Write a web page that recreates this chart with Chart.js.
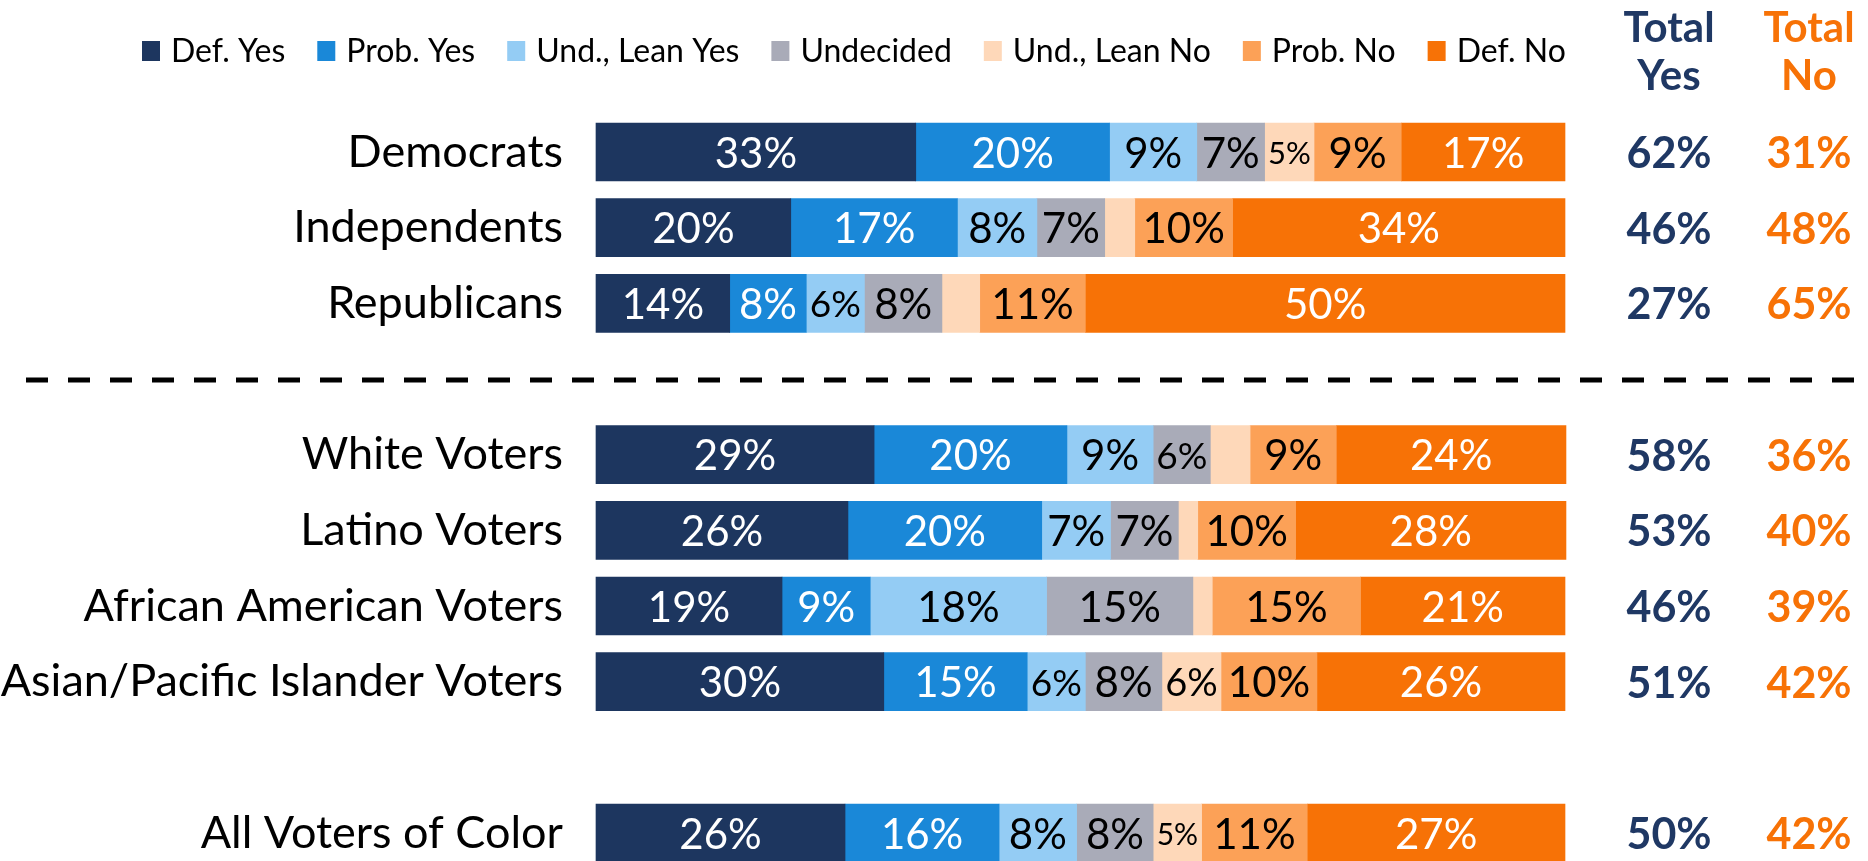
<!DOCTYPE html>
<html>
<head>
<meta charset="utf-8">
<script src="https://cdn.jsdelivr.net/npm/chart.js@4.4.1/dist/chart.umd.min.js"></script>
<style>
  html, body { margin: 0; padding: 0; background: #ffffff; }
  #wrap { position: relative; width: 1868px; height: 861px; }
</style>
</head>
<body>
<div id="wrap"><canvas id="c"></canvas></div>
<script>
// ---- data ----
const categories = ["Democrats", "Independents", "Republicans", "", "White Voters", "Latino Voters",
  "African American Voters", "Asian/Pacific Islander Voters", "", "All Voters of Color"];
const seriesNames = ["Def. Yes", "Prob. Yes", "Und., Lean Yes", "Undecided", "Und., Lean No", "Prob. No", "Def. No"];
const defYes    = [33.0, 20.1, 13.8, null, 28.7, 26.0, 19.2, 29.7, null, 25.7];
const probYes   = [20.0, 17.2,  7.9, null, 19.9, 20.0,  9.1, 14.8, null, 15.9];
const leanYes   = [ 9.0,  8.2,  6.0, null,  8.9,  7.1, 18.2,  6.0, null,  8.0];
const undecided = [ 7.0,  7.0,  8.0, null,  5.9,  7.0, 15.1,  7.9, null,  7.9];
const leanNo    = [ 5.1,  3.1,  3.9, null,  4.1,  2.0,  2.0,  6.1, null,  5.0];
const probNo    = [ 9.0, 10.1, 10.9, null,  8.9, 10.1, 15.3,  9.9, null, 10.9];
const defNo     = [16.9, 34.3, 49.5, null, 23.7, 27.9, 21.1, 25.6, null, 26.6];
const totalYes  = [62, 46, 27, null, 58, 53, 46, 51, null, 50];
const totalNo   = [31, 48, 65, null, 36, 40, 39, 42, null, 42];
const totalHeaders = [["Total", "Yes"], ["Total", "No"]];

// ---- styles ----
const seriesColors = ["#1D365F", "#1A88D8", "#94CCF4", "#A9ABB8", "#FED8B9", "#FCA157", "#F77206"];
const labelColors  = ["#FFFFFF", "#FFFFFF", "#000000", "#000000", "#000000", "#000000", "#FFFFFF"];
const yesColor = "#1F3864";
const noColor = "#F77206";
const FONT = "Lato, 'Open Sans', sans-serif";

const seriesValues = [defYes, probYes, leanYes, undecided, leanNo, probNo, defNo];

const datasets = seriesValues.map((vals, i) => ({
  label: seriesNames[i],
  data: vals,
  backgroundColor: seriesColors[i],
  borderWidth: 0,
  barThickness: 58,
  clip: false,
  stack: "s"
}));

const overlay = {
  id: "overlay",
  afterDatasetsDraw(chart) {
    const ctx = chart.ctx;
    const yScale = chart.scales.y;
    ctx.save();
    // segment labels
    chart.data.datasets.forEach((ds, di) => {
      const meta = chart.getDatasetMeta(di);
      meta.data.forEach((bar, i) => {
        const v = ds.data[i];
        if (v == null || v < 4.5) return;
        const txt = Math.round(v) + "%";
        const w = Math.abs(bar.x - bar.base);
        let size = 42;
        ctx.font = size + "px " + FONT;
        let tw = ctx.measureText(txt).width;
        if (tw > w - 6) {
          size = Math.max(20, Math.floor(size * (w - 6) / tw));
          ctx.font = size + "px " + FONT;
        }
        ctx.fillStyle = labelColors[di];
        ctx.textAlign = "center";
        ctx.textBaseline = "middle";
        ctx.fillText(txt, (bar.x + bar.base) / 2, bar.y + 2);
      });
    });
    // totals columns
    const colX = [1669, 1809];
    const colColors = [yesColor, noColor];
    const colVals = [totalYes, totalNo];
    ctx.textAlign = "center";
    ctx.textBaseline = "middle";
    for (let c = 0; c < 2; c++) {
      ctx.fillStyle = colColors[c];
      ctx.font = "bold 42px " + FONT;
      ctx.fillText(totalHeaders[c][0], colX[c], 28);
      ctx.fillText(totalHeaders[c][1], colX[c], 76);
      ctx.font = "bold 43px " + FONT;
      colVals[c].forEach((v, i) => {
        if (v == null) return;
        ctx.fillText(v + "%", colX[c], yScale.getPixelForValue(i) + 2);
      });
    }
    // dashed separator on blank slot 3
    const yDash = yScale.getPixelForValue(3) + 1;
    ctx.strokeStyle = "#000000";
    ctx.lineWidth = 5;
    ctx.setLineDash([22, 20]);
    ctx.beginPath();
    ctx.moveTo(26, yDash);
    ctx.lineTo(1858, yDash);
    ctx.stroke();
    ctx.setLineDash([]);
    // legend
    let x = 142;
    const ly = 51;
    ctx.font = "32px " + FONT;
    ctx.textAlign = "left";
    ctx.textBaseline = "middle";
    chart.data.datasets.forEach((ds) => {
      ctx.fillStyle = ds.backgroundColor;
      ctx.fillRect(x, ly - 10, 18, 20);
      x += 18 + 11;
      ctx.fillStyle = "#000000";
      ctx.fillText(ds.label, x, ly + 1);
      x += ctx.measureText(ds.label).width + 32;
    });
    ctx.restore();
  }
};

function draw() {
  new Chart(document.getElementById("c"), {
    type: "bar",
    data: { labels: categories, datasets: datasets },
    options: {
      indexAxis: "y",
      responsive: true,
      maintainAspectRatio: false,
      devicePixelRatio: 1,
      animation: false,
      layout: { padding: { top: 152, bottom: 28, right: 303, left: 0 } },
      plugins: { legend: { display: false }, tooltip: { enabled: false } },
      scales: {
        x: { stacked: true, min: 0, max: 100, display: false },
        y: {
          stacked: true,
          offset: false,
          grid: { display: false, drawTicks: false },
          border: { display: false },
          ticks: { color: "#000000", font: { family: FONT, size: 45 }, padding: 33, autoSkip: false },
          afterFit(scale) { scale.width = 596; scale.paddingTop = 0; scale.paddingBottom = 0; }
        }
      }
    },
    plugins: [overlay]
  });
}
Promise.all([
  document.fonts.load("32px Lato"),
  document.fonts.load("bold 42px Lato")
]).then(draw, draw);
</script>
</body>
</html>
